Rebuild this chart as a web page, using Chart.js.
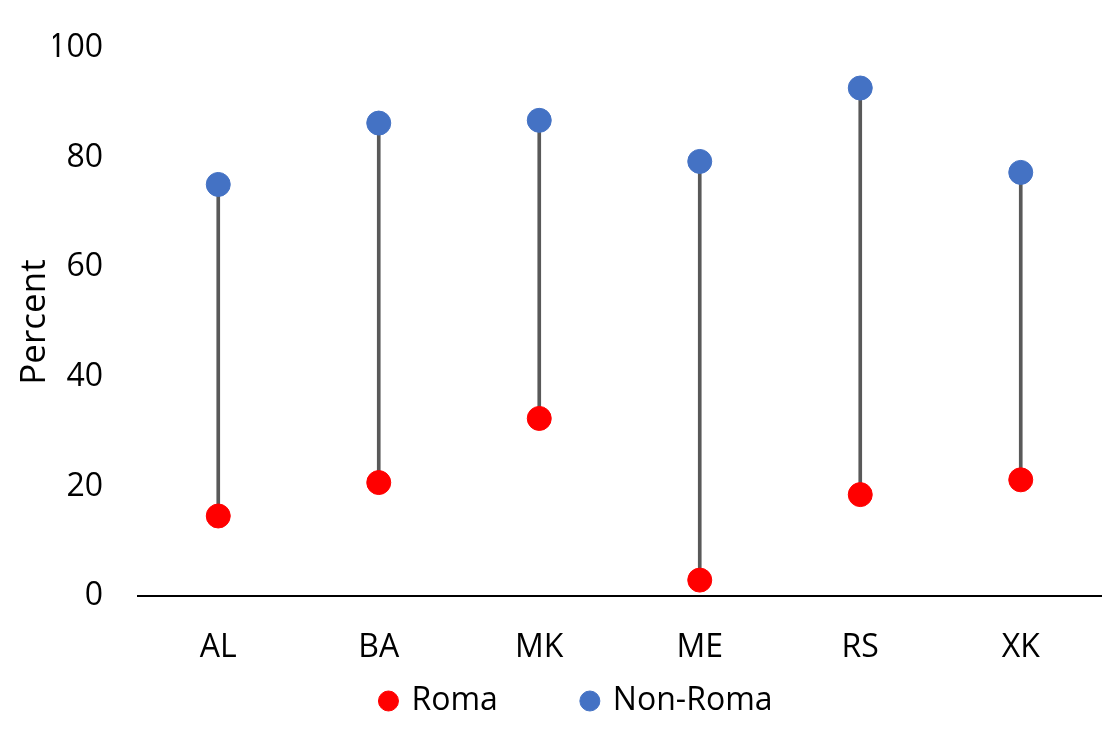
<!DOCTYPE html>
<html>
<head>
<meta charset="utf-8">
<script src="https://cdn.jsdelivr.net/npm/chart.js@4.4.1/dist/chart.umd.min.js"></script>
<style>
  html, body { margin: 0; padding: 0; background: #ffffff; }
  #wrap { width: 1119px; height: 735px; position: relative; }
</style>
</head>
<body>
<div id="wrap"><canvas id="c" width="1119" height="735"></canvas></div>
<script>
const categories = ["AL", "BA", "MK", "ME", "RS", "XK"];
const romaValues = [14.6, 20.7, 32.4, 2.9, 18.5, 21.2];
const nonRomaValues = [75.1, 86.3, 86.8, 79.3, 92.7, 77.3];
const seriesNames = ["Roma", "Non-Roma"];
const yTicks = [0, 20, 40, 60, 80, 100];

const FONT = "'Open Sans', Lato, sans-serif";
const FS = 32;

const connectorData = categories.map((c, i) => [romaValues[i], nonRomaValues[i]]);

new Chart(document.getElementById('c'), {
  data: {
    labels: categories,
    datasets: [
      {
        type: 'bar',
        label: 'range',
        data: connectorData,
        backgroundColor: '#595959',
        borderWidth: 0,
        barThickness: 3,
        order: 3
      },
      {
        type: 'line',
        label: seriesNames[0],
        data: romaValues,
        showLine: false,
        pointStyle: 'circle',
        pointRadius: 12,
        pointHoverRadius: 12,
        backgroundColor: '#FF0000',
        borderColor: '#FF0000',
        borderWidth: 1,
        order: 1
      },
      {
        type: 'line',
        label: seriesNames[1],
        data: nonRomaValues,
        showLine: false,
        pointStyle: 'circle',
        pointRadius: 12,
        pointHoverRadius: 12,
        backgroundColor: '#4472C4',
        borderColor: '#4472C4',
        borderWidth: 1,
        order: 2
      }
    ]
  },
  options: {
    responsive: false,
    animation: false,
    events: [],
    layout: { padding: { left: 53, right: 18, top: 48, bottom: 8 } },
    plugins: {
      tooltip: { enabled: false },
      legend: {
        position: 'bottom',
        labels: {
          filter: (item) => item.datasetIndex !== 0,
          usePointStyle: true,
          pointStyle: 'circle',
          boxWidth: 14,
          boxHeight: 14.14,
          padding: 85,
          color: '#000000',
          font: { family: FONT, size: FS }
        }
      }
    },
    scales: {
      x: {
        type: 'category',
        offset: true,
        grid: { display: false, drawTicks: false },
        border: { display: true, color: '#000000', width: 2 },
        ticks: { color: '#000000', font: { family: FONT, size: FS }, mirror: true, padding: -71, maxRotation: 0, autoSkip: false },
        afterFit: (s) => { s.height = 4; }
      },
      y: {
        min: 0,
        max: 100,
        afterBuildTicks: (s) => { s.ticks = yTicks.map(v => ({ value: v })); },
        grid: { display: false, drawTicks: false },
        border: { display: false },
        ticks: { color: '#000000', font: { family: FONT, size: FS }, padding: 35 },
        title: {
          display: true,
          text: 'Percent',
          color: '#000000',
          font: { family: FONT, size: 35 },
          padding: { top: -39, bottom: 0 }
        },
        afterFit: (s) => { s.width = 85; s.paddingTop = 0; s.paddingBottom = 0; }
      }
    }
  }
});
</script>
</body>
</html>
